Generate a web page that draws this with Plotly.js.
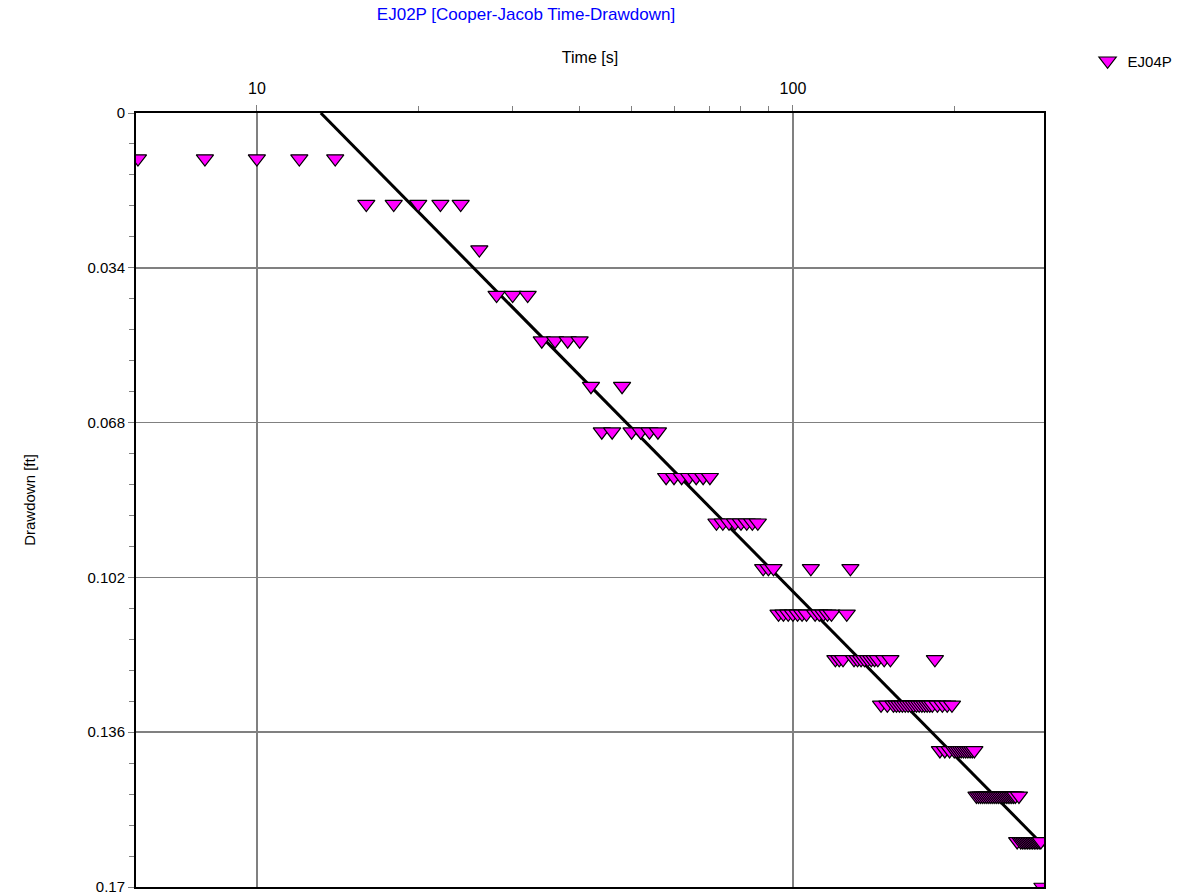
<!DOCTYPE html>
<html>
<head>
<meta charset="utf-8">
<script src="https://cdn.plot.ly/plotly-3.0.1.min.js"></script>
<style>html,body{margin:0;padding:0;background:#fff;}#chart{width:1192px;height:896px;}</style>
</head>
<body>
<div id="chart"></div>
<script>
// Drawdown levels (ft) and the observation times (s) recorded at each level
const drawdownLevels = [0.01,0.02,0.03,0.04,0.05,0.06,0.07,0.08,0.09,0.10,0.11,0.12,0.13,0.14,0.15,0.16,0.17];
const timesAtLevel = [
  [6,8,10,12,14],
  [16,18,20,22,24],
  [26],
  [28,30,32],
  [34,36,38,40],
  [42,48],
  [44,46,50,52,54,56],
  [58,60,62,64,66,68,70],
  [72,74,76,78,80,82,84,86],
  [88,90,92,108,128],
  [94,96,98,100,102,104,106,110,112,114,116,118,126],
  [120,122,124,130,132,134,136,138,140,142,144,148,152,184],
  [146,150,154,156,158,160,162,164,166,168,170,172,174,176,178,180,182,186,190,194,198],
  [188,192,196,200,202,204,206,208,210,212,214,216,218],
  [220,222,224,226,228,230,232,234,236,238,240,242,244,246,248,250,252,254,256,258,260,264],
  [262,266,268,270,272,274,276,278,280,282,284,286,288,290],
  [292]
];
// Cooper-Jacob straight-line fit
const fitTime = [13.16, 294];
const fitDrawdown = [0, 0.161];

const xTickVals = [10, 100];
const xMinorVals = [20,30,40,50,60,70,80,90,200];
const yTickVals = [0, 0.034, 0.068, 0.102, 0.136, 0.17];
const yTickText = ['0','0.034','0.068','0.102','0.136','0.17'];

const obsTime = [], obsDrawdown = [];
timesAtLevel.forEach((arr, i) => arr.forEach(t => { obsTime.push(t); obsDrawdown.push(drawdownLevels[i]); }));

const font = 'Liberation Sans, Arial, sans-serif';

const traces = [
  {
    x: fitTime, y: fitDrawdown, mode: 'lines', type: 'scatter',
    line: {color: '#000000', width: 3}, showlegend: false, hoverinfo: 'skip'
  },
  {
    x: obsTime, y: obsDrawdown, mode: 'markers', type: 'scatter', name: 'EJ04P',
    marker: {symbol: 'triangle-down', size: 15, color: '#FF00FF', line: {color: '#000000', width: 1.2}}
  }
];

const layout = {
  width: 1192, height: 896,
  paper_bgcolor: '#ffffff', plot_bgcolor: '#ffffff',
  margin: {l: 136, r: 148, t: 113, b: 9},
  font: {family: font, size: 14, color: '#000000'},
  title: {
    text: 'EJ02P [Cooper-Jacob Time-Drawdown]',
    font: {family: font, size: 17, color: '#0000FF'},
    x: 526/1192, xanchor: 'center', y: 0.9915, yanchor: 'top'
  },
  xaxis: {
    type: 'log', side: 'top',
    range: [Math.log10(5.95), Math.log10(294)],
    tickmode: 'array', tickvals: xTickVals, ticktext: xTickVals.map(String),
    ticks: 'outside', ticklen: 6, tickcolor: '#808080', ticklabelstandoff: 5,
    showgrid: true, gridcolor: '#808080', gridwidth: 1.5,
    minor: {tickmode: 'array', tickvals: xMinorVals, ticks: 'outside', ticklen: 5, tickcolor: '#808080', showgrid: false},
    showline: true, linecolor: '#000000', linewidth: 2, mirror: true,
    zeroline: false,
    tickfont: {family: font, size: 16},
    title: {text: 'Time [s]', font: {family: font, size: 16}, standoff: 12}
  },
  yaxis: {
    range: [0.17, 0],
    tickmode: 'array', tickvals: yTickVals, ticktext: yTickText,
    ticks: 'outside', ticklen: 6, tickcolor: '#808080',
    showgrid: true, gridcolor: '#808080', gridwidth: 1.5,
    minor: {dtick: 0.0068, tick0: 0, ticks: 'outside', ticklen: 5, tickcolor: '#808080', showgrid: false},
    showline: true, linecolor: '#000000', linewidth: 2, mirror: true,
    zeroline: false,
    tickfont: {family: font, size: 15},
    title: {text: 'Drawdown [ft]', font: {family: font, size: 15}, standoff: 48}
  },
  legend: {
    x: 1.048, y: 1.0885, xanchor: 'left', yanchor: 'top',
    font: {family: font, size: 15}, bgcolor: 'rgba(0,0,0,0)', borderwidth: 0,
    itemwidth: 30
  },
  showlegend: true
};

Plotly.newPlot('chart', traces, layout, {displayModeBar: false, staticPlot: true});
</script>
</body>
</html>
